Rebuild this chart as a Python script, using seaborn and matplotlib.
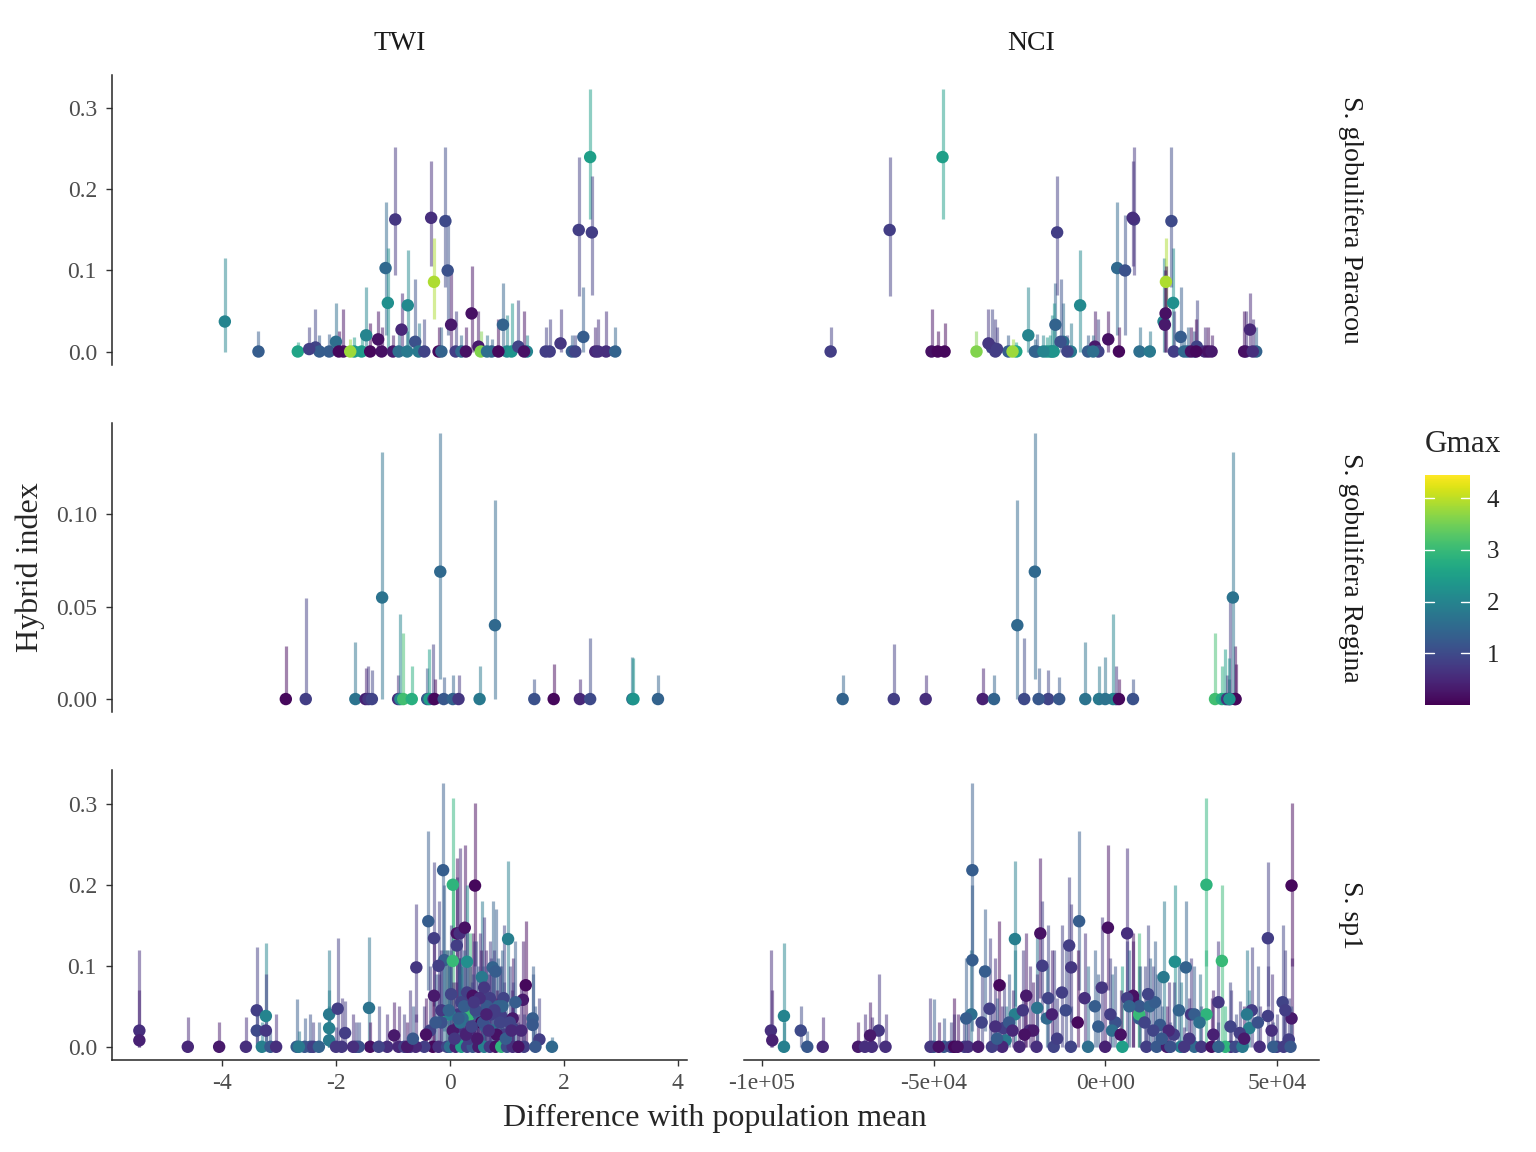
import matplotlib as mpl
import matplotlib.pyplot as plt
import seaborn as sns
import numpy as np
import pandas as pd

sns.set_style('ticks')
mpl.rcParams['font.family'] = ['Liberation Serif', 'DejaVu Serif']

# S. globulifera Paracou : one value per individual
par_twi = [-3.95, -3.36, -2.67, -2.36, -2.29, -2.12, -2.00, -1.87, -1.68, -1.55,
           -1.47, -1.26, -1.13, -1.09, -0.96, -0.85, -0.74, -0.61, -0.33, -0.28,
           -0.08, -0.04, 0.02, 0.38, 0.50, 0.54, 0.73, 0.93, 2.26, 2.34,
           2.46, 2.49, 1.00, 1.08, 1.20, 1.35, 1.68, 1.75, 1.94, 2.14,
           2.55, 2.74, 2.90, -1.95, -1.40, -1.20, -1.00, -0.90, -0.75, -0.55,
           -0.45, -0.20, -0.15, 0.10, 0.20, 0.28, 0.65, 0.85, 1.30, 2.20,
           2.60, -2.47, -1.75]
par_nci = [17000, 26000, -25900, -33000, -28200, -20000, -12200, -50600, -17000, -16000,
           -22400, 900, 3500, 19800, 8400, 42200, -7300, -13000, 8000, 17700,
           19300, 5800, 17400, 17600, -3000, -37500, -20500, -14500, -62800, 22000,
           -47400, -14000, -15500, -15000, 26700, -18000, -80000, -32000, -34000, -5000,
           29000, 41000, 44000, -48800, -46800, 30000, 31000, 10000, 13000, -10000,
           -2000, 4000, 24000, 20000, 23000, 25000, -3500, 26500, 40500, -11000,
           43000, -31500, -27000]
par_hi = [0.037, 0, 0, 0.005, 0, 0, 0.012, 0, 0, 0,
          0.02, 0.015, 0.103, 0.06, 0.163, 0.027, 0.057, 0.012, 0.165, 0.086,
          0.161, 0.1, 0.033, 0.047, 0.006, 0, 0, 0.033, 0.15, 0.018,
          0.24, 0.147, 0, 0, 0.006, 0, 0, 0, 0.01, 0,
          0, 0, 0, 0, 0, 0, 0, 0, 0, 0,
          0, 0, 0, 0, 0, 0, 0, 0, 0, 0,
          0, 0.003, 0]
par_lo = [0, 0, 0, 0, 0, 0, 0, 0, 0, 0,
          0, 0, 0.02, 0, 0.095, 0, 0, 0, 0.105, 0.04,
          0.08, 0.02, 0, 0, 0, 0, 0, 0, 0.068, 0,
          0.163, 0.07, 0, 0, 0, 0, 0, 0, 0, 0,
          0, 0, 0, 0, 0, 0, 0, 0, 0, 0,
          0, 0, 0, 0, 0, 0, 0, 0, 0, 0,
          0, 0, 0]
par_up = [0.115, 0.025, 0.012, 0.052, 0.02, 0.022, 0.06, 0.053, 0.018, 0.02,
          0.08, 0.05, 0.185, 0.128, 0.253, 0.072, 0.125, 0.09, 0.235, 0.14,
          0.252, 0.168, 0.1, 0.106, 0.05, 0.025, 0.015, 0.085, 0.24, 0.08,
          0.324, 0.217, 0.045, 0.06, 0.063, 0.02, 0.03, 0.04, 0.052, 0.02,
          0.03, 0.05, 0.03, 0.025, 0.035, 0.03, 0.02, 0.03, 0.025, 0.035,
          0.04, 0.03, 0.03, 0.05, 0.02, 0.03, 0.02, 0.04, 0.05, 0.02,
          0.04, 0.03, 0.015]
par_gmax = [2.0, 1.3, 2.6, 0.9, 1.3, 1.3, 1.6, 0.2, 2.4, 2.4,
            2.0, 0.2, 1.5, 2.2, 0.7, 0.5, 2.1, 1.1, 0.6, 3.9,
            1.0, 1.1, 0.3, 0.2, 0.3, 3.6, 1.4, 1.4, 0.8, 1.3,
            2.5, 0.8, 2.1, 2.3, 0.9, 2.0, 0.8, 0.8, 0.7, 1.3,
            0.5, 0.6, 1.4, 0.1, 0.1, 0.2, 0.3, 1.6, 1.8, 1.8,
            0.9, 0.1, 1.4, 0.8, 1.5, 0.2, 1.6, 0.1, 0.2, 0.9,
            0.6, 0.8, 3.8]

# S. gobulifera Regina
reg_twi = [-2.88, -2.53, -1.66, -1.48, -1.43, -1.37, -1.19, -0.91, -0.87, -0.82,
           -0.67, -0.40, -0.36, -0.29, -0.27, -0.17, -0.11, 0.05, 0.15, 0.52,
           0.79, 1.48, 1.82, 2.28, 2.46, 3.20, 3.65, 3.22]
reg_nci = [37800, 36500, -5800, -35700, 3200, -16600, 37200, -52300, 2300, 32000,
           34000, -19400, 35000, -61600, 4000, -20500, -13400, -32400, 35500, -1800,
           -25600, 8100, 38000, 36000, -23600, 0, -76500, 36200]
reg_hi = [0, 0, 0, 0, 0, 0, 0.055, 0, 0, 0,
          0, 0, 0, 0, 0, 0.069, 0, 0, 0, 0,
          0.04, 0, 0, 0, 0, 0, 0, 0]
reg_lo = [0, 0, 0, 0, 0, 0, 0, 0, 0, 0,
          0, 0, 0, 0, 0, 0.011, 0, 0, 0, 0,
          0, 0, 0, 0, 0, 0, 0, 0]
reg_up = [0.029, 0.055, 0.031, 0.017, 0.018, 0.016, 0.134, 0.013, 0.046, 0.036,
          0.018, 0.017, 0.027, 0.03, 0.011, 0.144, 0.012, 0.013, 0.013, 0.018,
          0.108, 0.011, 0.019, 0.011, 0.033, 0.023, 0.013, 0.022]
reg_gmax = [0.1, 0.8, 1.7, 0.4, 0.7, 0.9, 1.7, 0.6, 2.0, 3.1,
            2.8, 1.2, 2.5, 0.8, 0.1, 1.5, 1.2, 1.4, 0.7, 1.8,
            1.5, 1.1, 0.1, 0.5, 1.0, 1.7, 1.4, 2.3]

# S. sp1
sp1_twi = [-5.45, -5.45, -4.60, -4.05, -3.58, -3.39, -3.39, -3.23, -3.23, -3.30,
           -3.15, -3.05, -2.69, -2.55, -2.45, -2.40, -2.12, -2.12, -2.12, -1.97,
           -1.84, -1.90, -1.65, -1.42, -1.40, -1.10, -0.98, -0.90, -0.80, -0.70,
           -0.59, -0.38, -0.28, -0.28, -0.12, -0.10, -0.10, 0.05, 0.05, 0.12,
           0.12, 0.17, 0.26, 0.44, 1.02, 1.33, 1.28, 1.45, 1.45, 1.57,
           1.79, 0.30, 0.75, 0.80, 0.56, 0.94, -0.20, 0.30, 0.40, 0.60,
           0.70, 0.20, 0.90, 1.10, 0.35, -0.05, 0.15, 0.50, 1.10, 0.00,
           0.65, 0.85, 0.25, -0.15, -0.30, -0.20, -0.05, 0.00, 0.10, 0.20,
           0.30, 0.40, 0.50, 0.60, 0.70, 0.80, 0.90, 1.00, 1.10, 1.20,
           1.30, 1.50, -0.45, -0.60, -0.75, -1.25, -1.60, -2.00, -2.30, -2.65,
           0.35, 0.55, 0.75, 0.95, -0.35, 0.15, 1.20, -1.70, -0.25, -0.15,
           0.05, 0.22, 0.33, 0.45, 0.52, 0.62, 0.72, 0.82, 0.92, 1.05,
           1.15, 1.25, -0.02, 0.08, 0.18, 0.28, 0.38, 0.48, 0.58, 0.68,
           0.78, 0.88, 0.98, 1.08, -0.42, -0.65, 0.42, 0.15, 0.02, 0.64]
sp1_nci = [-97400, -97000, -82300, -72000, -68000, 42700, -88700, -93600, -66000, -93600,
           -86800, -64000, -50000, -47000, -44000, -41000, 41300, 42000, -29000, -33700,
           39200, -50900, -45000, -19800, -48500, -40000, -68500, -30000, 50000, 36600,
           -9900, -7600, 47400, -23000, -38700, -38700, -39000, 29500, 34000, -10500,
           -18900, 6400, 800, 54300, -26300, -30800, 8100, 9900, 16000, 53500,
           26000, 20300, 23500, -35000, 17000, -16600, -18300, -12600, 8100, -1000,
           6400, 51700, 47400, 54300, 9900, 29500, 25000, 26000, -29600, -26300,
           10000, 13000, -3000, 3000, -44000, -20000, -15000, -5000, 0, 5000,
           12000, 15000, 18000, 22000, 28000, 31000, 35000, 38000, 45000, 49000,
           52000, 54000, -33000, -25000, -37000, -10000, 19000, 23000, 33000, 40000,
           -22000, -8000, 2000, 20000, 14000, -32000, -43000, -70000, -28000, -24000,
           -21000, -17000, -14000, -11500, -6000, -2000, 1500, 4500, 7000, 11500,
           14500, 18500, 21500, 24500, 27500, 31500, 36500, 40500, 44500, 48500,
           52500, -36000, -31500, -27000, -23500, 16500, 33000, -40500, 12500, -15500]
sp1_hi = [0.02, 0.008, 0, 0, 0, 0.045, 0.02, 0.038, 0.02, 0,
          0, 0, 0, 0, 0, 0, 0.04, 0.023, 0.008, 0.047,
          0.017, 0, 0, 0.048, 0, 0, 0.014, 0, 0, 0,
          0.098, 0.155, 0.134, 0.063, 0.218, 0.107, 0.04, 0.2, 0.106, 0.125,
          0.14, 0.14, 0.147, 0.199, 0.133, 0.076, 0.058, 0.035, 0.027, 0.009,
          0, 0.105, 0.098, 0.093, 0.086, 0.06, 0.1, 0.067, 0.063, 0.073,
          0.06, 0.055, 0.038, 0.035, 0.04, 0.04, 0.04, 0.04, 0.023, 0.04,
          0.05, 0.05, 0.05, 0.03, 0, 0, 0, 0, 0, 0,
          0, 0, 0, 0, 0, 0, 0, 0, 0, 0,
          0, 0, 0, 0, 0, 0, 0, 0, 0, 0,
          0.02, 0.03, 0.02, 0.015, 0.02, 0.025, 0, 0, 0.03, 0.045,
          0.02, 0.035, 0.01, 0.045, 0.06, 0.025, 0.04, 0.015, 0.05, 0.03,
          0.055, 0.02, 0.045, 0.01, 0.03, 0.015, 0.025, 0.01, 0.03, 0.02,
          0.045, 0.03, 0.01, 0.02, 0.015, 0.01, 0.055, 0.035, 0.065, 0.04]
sp1_lo = [0, 0, 0, 0, 0, 0, 0, 0, 0, 0,
          0, 0, 0, 0, 0, 0, 0, 0, 0, 0,
          0, 0, 0, 0, 0, 0, 0, 0, 0, 0,
          0.03, 0.07, 0.05, 0, 0.1, 0.02, 0, 0.1, 0, 0.05,
          0.06, 0.05, 0.07, 0.1, 0.05, 0, 0, 0, 0, 0,
          0, 0.02, 0.02, 0.02, 0, 0, 0.03, 0, 0, 0,
          0, 0, 0, 0, 0, 0, 0, 0, 0, 0,
          0, 0, 0, 0, 0, 0, 0, 0, 0, 0,
          0, 0, 0, 0, 0, 0, 0, 0, 0, 0,
          0, 0, 0, 0, 0, 0, 0, 0, 0, 0,
          0, 0, 0, 0, 0, 0, 0, 0, 0, 0,
          0, 0, 0, 0, 0, 0, 0, 0, 0, 0,
          0, 0, 0, 0, 0, 0, 0, 0, 0, 0,
          0, 0, 0, 0, 0, 0, 0, 0, 0, 0]
sp1_up = [0.12, 0.07, 0.037, 0.03, 0.037, 0.123, 0.05, 0.128, 0.09, 0.03,
          0.02, 0.04, 0.059, 0.035, 0.04, 0.03, 0.12, 0.07, 0.05, 0.134,
          0.056, 0.06, 0.03, 0.135, 0.03, 0.04, 0.055, 0.05, 0.04, 0.07,
          0.176, 0.266, 0.228, 0.14, 0.325, 0.2, 0.12, 0.307, 0.2, 0.21,
          0.233, 0.245, 0.249, 0.301, 0.229, 0.155, 0.13, 0.1, 0.09, 0.06,
          0.012, 0.2, 0.18, 0.17, 0.18, 0.15, 0.18, 0.15, 0.14, 0.16,
          0.13, 0.15, 0.1, 0.11, 0.14, 0.12, 0.11, 0.1, 0.08, 0.12,
          0.1, 0.11, 0.12, 0.1, 0.06, 0.09, 0.12, 0.1, 0.08, 0.1,
          0.07, 0.09, 0.05, 0.08, 0.05, 0.06, 0.05, 0.04, 0.05, 0.03,
          0.04, 0.05, 0.05, 0.04, 0.03, 0.05, 0.03, 0.025, 0.03, 0.02,
          0.1, 0.12, 0.09, 0.08, 0.1, 0.11, 0.04, 0.04, 0.09, 0.12,
          0.08, 0.1, 0.06, 0.13, 0.14, 0.09, 0.11, 0.07, 0.12, 0.1,
          0.13, 0.08, 0.11, 0.06, 0.09, 0.07, 0.08, 0.05, 0.1, 0.09,
          0.12, 0.1, 0.06, 0.07, 0.06, 0.05, 0.13, 0.11, 0.15, 0.12]
sp1_gmax = [0.6, 0.4, 0.5, 0.3, 0.6, 0.8, 1.0, 2.0, 0.7, 1.9,
            1.2, 0.6, 1.3, 1.2, 1.1, 0.8, 1.8, 1.9, 1.8, 0.8,
            0.8, 0.7, 0.9, 1.7, 0.2, 0.6, 0.3, 0.5, 0.8, 0.7,
            0.7, 1.3, 0.8, 0.3, 1.3, 1.3, 1.6, 2.9, 3.0, 0.8,
            0.2, 0.6, 0.2, 0.1, 1.9, 0.1, 0.3, 1.3, 1.2, 0.8,
            1.5, 2.2, 1.4, 1.3, 1.8, 0.9, 0.8, 0.8, 0.2, 0.7,
            0.8, 0.9, 0.8, 0.3, 3.0, 2.9, 0.7, 1.3, 0.8, 1.9,
            1.2, 1.4, 1.3, 1.1, 0.1, 0.6, 0.9, 1.6, 0.4, 2.5,
            0.8, 1.2, 0.3, 1.9, 0.7, 0.2, 2.9, 1.0, 0.6, 1.3,
            0.8, 1.2, 0.8, 0.5, 0.3, 0.9, 1.1, 0.7, 1.4, 1.8,
            0.5, 0.1, 1.6, 0.8, 0.9, 0.6, 0.2, 0.6, 1.2, 0.7,
            0.3, 1.5, 0.8, 1.0, 0.6, 1.3, 0.8, 0.2, 1.4, 0.9,
            1.3, 0.5, 1.4, 0.7, 1.6, 0.4, 0.9, 0.3, 1.1, 0.6,
            0.8, 0.9, 1.3, 0.5, 0.2, 1.2, 0.7, 1.3, 0.9, 0.4]

species = ['S. globulifera Paracou', 'S. gobulifera Regina', 'S. sp1']
variables = ['TWI', 'NCI']

twi_ticks = [-4, -2, 0, 2, 4]
twi_labels = ['-4', '-2', '0', '2', '4']
nci_ticks = [-100000, -50000, 0, 50000]
nci_labels = ['-1e+05', '-5e+04', '0e+00', '5e+04']
y_ticks = [[0, 0.1, 0.2, 0.3], [0, 0.05, 0.10], [0, 0.1, 0.2, 0.3]]
y_labels = [['0.0', '0.1', '0.2', '0.3'], ['0.00', '0.05', '0.10'], ['0.0', '0.1', '0.2', '0.3']]

tables = [
    (par_twi, par_nci, par_hi, par_lo, par_up, par_gmax),
    (reg_twi, reg_nci, reg_hi, reg_lo, reg_up, reg_gmax),
    (sp1_twi, sp1_nci, sp1_hi, sp1_lo, sp1_up, sp1_gmax),
]
frames = []
for sp, (twi, nci, hi, lo, up, gm) in zip(species, tables):
    assert len({len(twi), len(nci), len(hi), len(lo), len(up), len(gm)}) == 1
    for var, vals in (('TWI', twi), ('NCI', nci)):
        frames.append(pd.DataFrame({'species': sp, 'variable': var, 'value': vals,
                                    'hybrid': hi, 'low': lo, 'high': up, 'Gmax': gm}))
df = pd.concat(frames, ignore_index=True)

norm = mpl.colors.Normalize(vmin=0.0, vmax=4.45)
cmap = plt.get_cmap('viridis')


def draw(data, **kws):
    ax = plt.gca()
    ax.vlines(data['value'], data['low'], data['high'],
              colors=cmap(norm(data['Gmax'].values)), alpha=0.5, lw=2.3, zorder=2)
    sns.scatterplot(data=data, x='value', y='hybrid', hue='Gmax', palette='viridis',
                    hue_norm=norm, s=80, linewidth=0, legend=False, ax=ax, zorder=3)


g = sns.FacetGrid(df, row='species', col='variable', row_order=species, col_order=variables,
                  sharex='col', sharey='row', height=2.9, aspect=1.98)
g.map_dataframe(draw)
g.set_titles(template='', row_template='', col_template='')
g.set_axis_labels('', '')

fig = g.figure
fig.set_size_inches(15.36, 11.52)
fig.subplots_adjust(left=112 / 1536, right=1319 / 1536, top=1 - 75 / 1152,
                    bottom=1 - 1060 / 1152, wspace=0.099, hspace=0.2)

tick_color = '#4D4D4D'
for i, sp in enumerate(species):
    for j, var in enumerate(variables):
        ax = g.axes[i, j]
        ax.set_title('')
        ax.set_xlabel('')
        ax.set_ylabel('')
        for s in ['top', 'right']:
            ax.spines[s].set_visible(False)
        ax.spines['left'].set_linewidth(1.1)
        ax.spines['bottom'].set_linewidth(1.1)
        ax.tick_params(length=4.3, width=1.0, color='#333333', labelcolor=tick_color,
                       labelsize=17, pad=6.5)
        if var == 'TWI':
            ax.set_xlim(-5.93, 4.16)
            ax.set_xticks(twi_ticks)
            ax.set_xticklabels(twi_labels)
        else:
            ax.set_xlim(-105250, 62300)
            ax.set_xticks(nci_ticks)
            ax.set_xticklabels(nci_labels)
        if i == 1:
            ax.set_ylim(-0.0072, 0.1497)
        else:
            ax.set_ylim(-0.0163, 0.3413)
        ax.set_yticks(y_ticks[i])
        ax.set_yticklabels(y_labels[i])
        if j == 1:
            ax.spines['left'].set_visible(False)
            ax.tick_params(axis='y', left=False, labelleft=False)
        else:
            ax.tick_params(axis='y', labelleft=True)
        if i < 2:
            ax.spines['bottom'].set_visible(False)
            ax.tick_params(axis='x', bottom=False, labelbottom=False)
        else:
            ax.tick_params(axis='x', labelbottom=True, pad=5)
        if i == 0:
            ax.text(0.5, 1 + 32 / 290, var, transform=ax.transAxes, ha='center',
                    va='center', fontsize=20, color='#1A1A1A')
        if j == 1:
            ax.text(1 + 31 / 574, 0.5, sp, transform=ax.transAxes, ha='center',
                    va='center', rotation=270, fontsize=20, color='#1A1A1A')

fig.text(30 / 1536, 0.508, 'Hybrid index', rotation=90, ha='center', va='center', fontsize=23)
fig.text(715 / 1536, 1 - 1118 / 1152, 'Difference with population mean', ha='center',
         va='center', fontsize=23)

# colour bar
cax = fig.add_axes([1425 / 1536, 1 - 705 / 1152, 45 / 1536, 230 / 1152])
cb = fig.colorbar(mpl.cm.ScalarMappable(norm=norm, cmap=cmap), cax=cax)
cb.outline.set_visible(False)
cb.set_ticks([1, 2, 3, 4])
cax.tick_params(length=0, pad=12, labelsize=18)
for v in [1, 2, 3, 4]:
    cax.plot([0, 0.2], [v, v], color='white', lw=1, transform=cax.get_yaxis_transform())
    cax.plot([0.8, 1], [v, v], color='white', lw=1, transform=cax.get_yaxis_transform())
fig.text(1425 / 1536, 1 - 445 / 1152, 'Gmax', ha='left', va='center', fontsize=22.5)

fig.savefig('out.png', dpi=100)
